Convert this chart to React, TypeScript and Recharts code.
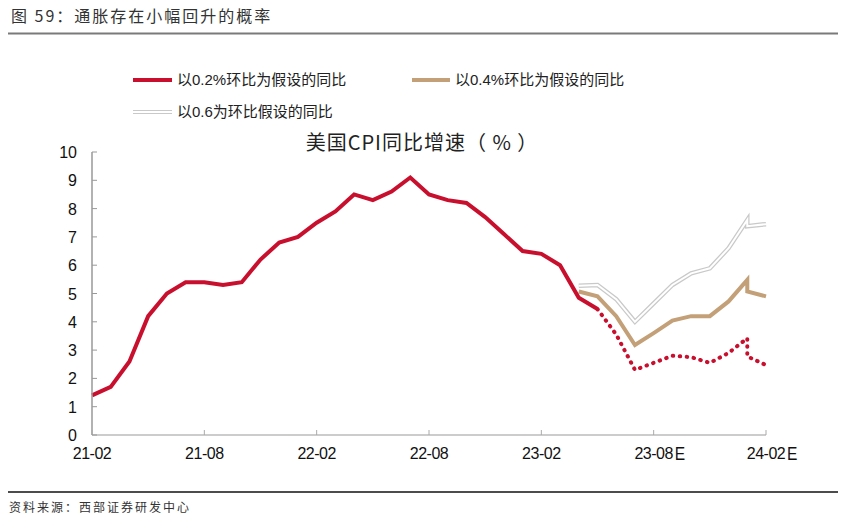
import React from 'react';
import { LineChart, Line, XAxis, YAxis } from 'recharts';

// month index 0 = "21-02" on the axis
const tickMonths = [0, 6, 12, 18, 24, 30, 36];
const tickLabels = ['21-02', '21-08', '22-02', '22-08', '23-02', '23-08E', '24-02E'];
const yTicks = [0, 1, 2, 3, 4, 5, 6, 7, 8, 9, 10];

// actual CPI yoy
const actualValues = [
  1.4, 1.7, 2.6, 4.2, 5.0, 5.4, 5.4, 5.3, 5.4, 6.2, 6.8, 7.0, 7.5, 7.9,
  8.5, 8.3, 8.6, 9.1, 8.5, 8.3, 8.2, 7.7, 7.1, 6.5, 6.4, 6.0, 4.85, 4.45,
];

// scenarios (month 35 appears twice in the source sheet)
const mom02Months = [27, 28, 29, 30, 31, 32, 33, 34, 35, 35, 36];
const mom02Values = [4.45, 3.55, 2.3, 2.55, 2.8, 2.75, 2.55, 2.9, 3.42, 2.78, 2.47];

const mom04Months = [26, 27, 28, 29, 30, 31, 32, 33, 34, 35, 35, 36];
const mom04Values = [5.07, 4.9, 4.2, 3.18, 3.6, 4.04, 4.2, 4.2, 4.72, 5.48, 5.07, 4.9];

const mom06Months = [26, 27, 28, 29, 30, 31, 32, 33, 34, 35, 35, 36];
const mom06Values = [5.27, 5.3, 4.8, 4.0, 4.65, 5.3, 5.71, 5.89, 6.6, 7.6, 7.38, 7.45];

const toRows = (months: number[], values: number[]) => months.map((m, i) => ({ m, v: values[i] }));

const actualRows = toRows(actualValues.map((_, i) => i), actualValues);
const mom02Rows = toRows(mom02Months, mom02Values);
const mom04Rows = toRows(mom04Months, mom04Values);
const mom06Rows = toRows(mom06Months, mom06Values);

const RED = '#C8102E';
const TAN = '#C3A077';
const LATIN = '"Liberation Sans", Arial, "Noto Sans CJK SC", sans-serif';
const CJK = '"Noto Sans CJK SC", sans-serif';

const XTick = (props: any) => {
  const { x, y, payload } = props;
  const label = tickLabels[tickMonths.indexOf(payload.value)] ?? '';
  const hasE = label.endsWith('E');
  const main = hasE ? label.slice(0, -1) : label;
  return (
    <g>
      <line x1={x} x2={x} y1={435} y2={430} stroke="#aaa" strokeWidth={1} />
      <text x={x} y={y + 16} textAnchor="middle" fontSize={16} fontFamily={LATIN} fill="#111" letterSpacing={-0.5}>
        {main}
      </text>
      {hasE && (
        <text x={x + 21} y={y + 17} textAnchor="start" fontSize={19} fontFamily={LATIN} fill="#111" transform={`translate(${(x + 21) * 0.18},0) scale(0.82,1)`}>
          E
        </text>
      )}
    </g>
  );
};

const YTick = (props: any) => {
  const { y, payload } = props;
  return (
    <g>
      <line x1={92} x2={97} y1={y} y2={y} stroke="#999" strokeWidth={1} />
      <text x={77} y={y + 6} textAnchor="end" fontSize={16} fontFamily={LATIN} fill="#111">
        {payload.value}
      </text>
    </g>
  );
};

export default function App() {
  return (
    <div style={{ position: 'relative', width: 846, height: 526, margin: -8, background: '#fff' }}>
      <svg width={846} height={526} style={{ position: 'absolute', left: 0, top: 0 }}>
        <text x={11} y={22} fontSize={16} fontFamily={CJK} fill="#333" letterSpacing={2}>
          图 59：通胀存在小幅回升的概率
        </text>
        <line x1={8} x2={838} y1={33.5} y2={33.5} stroke="#7a7a7a" strokeWidth={2} />

        {/* legend */}
        <line x1={133} x2={172} y1={80} y2={80} stroke={RED} strokeWidth={4} />
        <text x={177} y={85} fontSize={15} fontFamily={LATIN} fill="#222">
          以0.2%环比为假设的同比
        </text>
        <line x1={412} x2={450} y1={80} y2={80} stroke={TAN} strokeWidth={4} />
        <text x={455} y={85} fontSize={15} fontFamily={LATIN} fill="#222">
          以0.4%环比为假设的同比
        </text>
        <line x1={133} x2={172} y1={112} y2={112} stroke="#c9c9c9" strokeWidth={4} />
        <line x1={133} x2={172} y1={112} y2={112} stroke="#fff" strokeWidth={2} />
        <text x={177} y={117} fontSize={15} fontFamily={LATIN} fill="#222">
          以0.6为环比假设的同比
        </text>

        <text x={422} y={150} textAnchor="middle" fontSize={20} fontFamily={CJK} fill="#222" letterSpacing={1}>
          美国CPI同比增速（ % ）
        </text>

        <line x1={8} x2={838} y1={492} y2={492} stroke="#111" strokeWidth={1.5} />
        <text x={9} y={512} fontSize={12} fontFamily={CJK} fill="#333" letterSpacing={2}>
          资料来源：西部证券研发中心
        </text>
      </svg>

      <div style={{ position: 'absolute', left: 0, top: 0 }}>
        <LineChart width={846} height={526} margin={{ top: 152, right: 80, bottom: 61, left: 52 }}>
          <XAxis
            type="number"
            dataKey="m"
            domain={[0, 36]}
            ticks={tickMonths}
            tick={<XTick />}
            tickLine={false}
            axisLine={{ stroke: '#bbb', strokeWidth: 1.5 }}
            height={30}
            interval={0}
          />
          <YAxis
            type="number"
            domain={[0, 10]}
            ticks={yTicks}
            tick={<YTick />}
            tickLine={false}
            axisLine={{ stroke: '#999', strokeWidth: 1.5 }}
            width={40}
            interval={0}
          />
          <Line data={mom06Rows} dataKey="v" stroke="#c9c9c9" strokeWidth={4.5} dot={false} activeDot={false} isAnimationActive={false} strokeLinejoin="miter" />
          <Line data={mom06Rows} dataKey="v" stroke="#ffffff" strokeWidth={2} dot={false} activeDot={false} isAnimationActive={false} strokeLinejoin="miter" />
          <Line data={mom04Rows} dataKey="v" stroke={TAN} strokeWidth={4} dot={false} activeDot={false} isAnimationActive={false} />
          <Line data={mom02Rows} dataKey="v" stroke={RED} strokeWidth={4} strokeDasharray="0.5 6.5" strokeLinecap="round" dot={false} activeDot={false} isAnimationActive={false} />
          <Line data={actualRows} dataKey="v" stroke={RED} strokeWidth={4} dot={false} activeDot={false} isAnimationActive={false} />
        </LineChart>
      </div>
    </div>
  );
}
